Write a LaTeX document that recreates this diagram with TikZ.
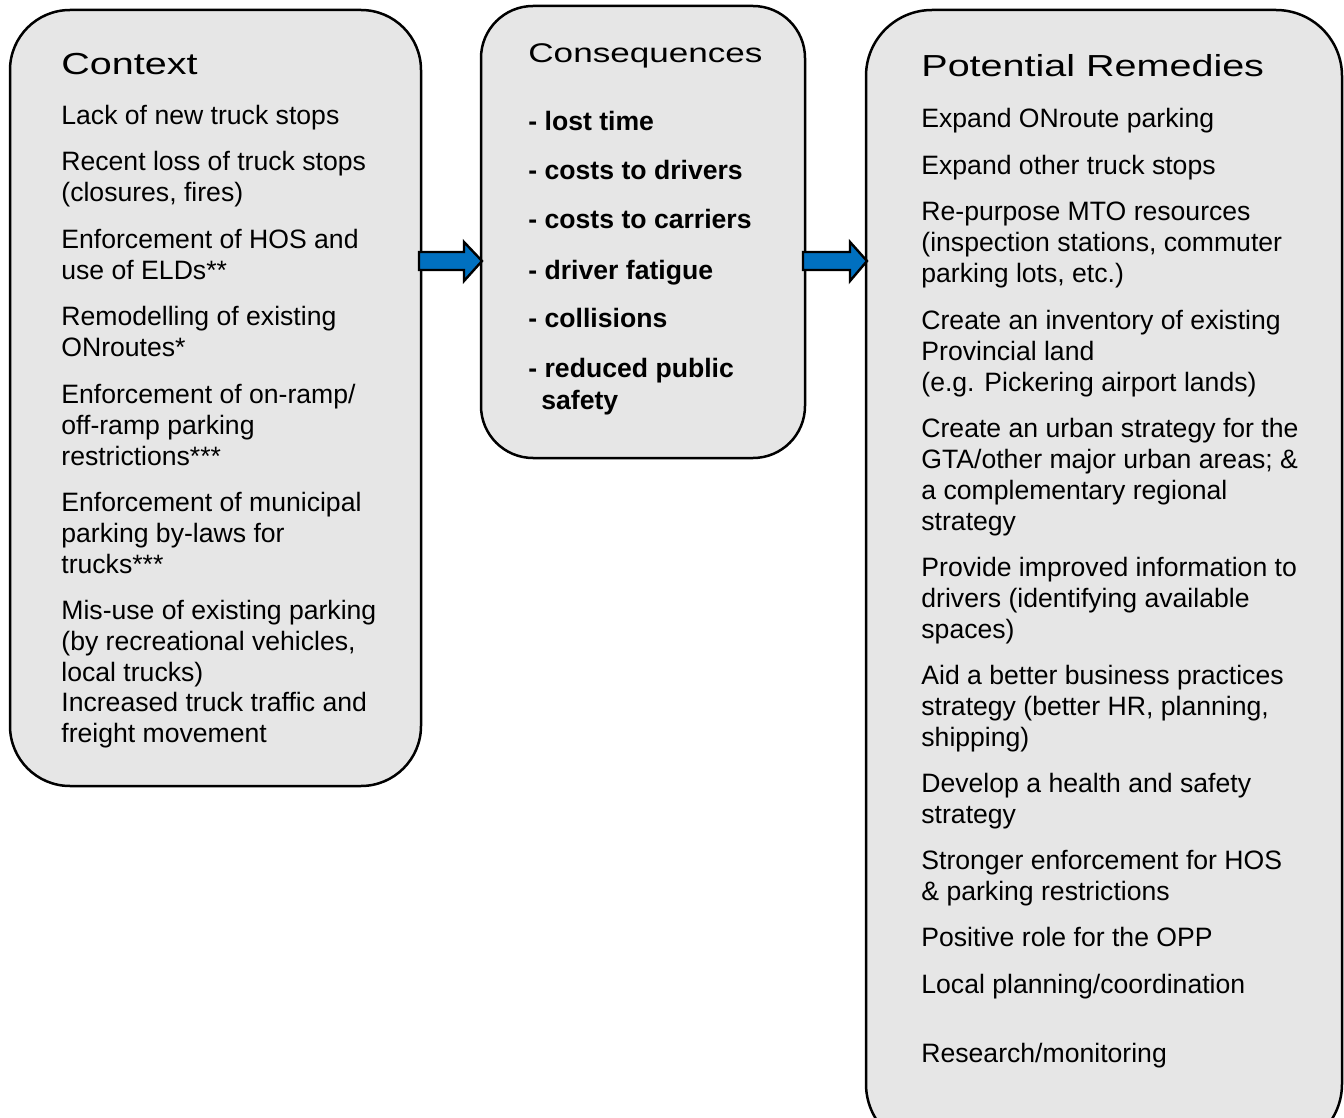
\documentclass[tikz,border=0pt]{standalone}
\usepackage{fontspec}
\setmainfont{Liberation Sans}
\newfontfamily\headfont[FakeStretch=1.3]{Liberation Sans}
\usetikzlibrary{calc}
\definecolor{boxgray}{HTML}{E6E6E6}
\definecolor{arrowblue}{HTML}{0070C0}
\tikzset{
  panel/.style={draw=black, line width=1.25pt, fill=boxgray},
  txt/.style={anchor=base west, inner sep=0pt, font=\fontsize{13.3}{15.5}\selectfont},
  btxt/.style={txt, font=\fontsize{13.3}{15.5}\selectfont\bfseries},
  head/.style={anchor=base west, inner sep=0pt, font=\headfont\fontsize{15.2}{18}\selectfont},
  headsm/.style={head, font=\headfont\fontsize{13.5}{16}\selectfont},
  flowarrow/.style={draw=black, line width=1.2pt, fill=arrowblue, line join=miter}
}
\begin{document}
\begin{tikzpicture}[x=0.5pt, y=-0.5pt]
\useasboundingbox (0,0) rectangle (1344,1118);
\clip (0,0) rectangle (1344,1118);
% panels
\path[panel, rounded corners=30pt] (10,10) rectangle (421,786);
\node[coordinate] (ctxE) at (421,261) {};
\path[panel, rounded corners=26pt] (481,6) rectangle (805,458);
\node[coordinate] (conW) at (481,261) {};
\node[coordinate] (conE) at (805,261) {};
\path[panel, rounded corners=33pt] (866,10) rectangle (1342,1150);
\node[coordinate] (remW) at (866,261) {};
% arrows
\draw[flowarrow] ($(ctxE)+(-2,-9)$) -- ($(conW)+(-17,-9)$) -- ($(conW)+(-17,-19)$) -- ($(conW)+(1,0)$)
  -- ($(conW)+(-17,20)$) -- ($(conW)+(-17,9)$) -- ($(ctxE)+(-2,9)$) -- cycle;
\draw[flowarrow] ($(conE)+(-2,-9)$) -- ($(remW)+(-16,-9)$) -- ($(remW)+(-16,-19)$) -- ($(remW)+(1,0)$)
  -- ($(remW)+(-16,20)$) -- ($(remW)+(-16,9)$) -- ($(conE)+(-2,9)$) -- cycle;
% Context
\node[head] (ch) at (61,75) {Context};
\node[txt] (c1) at (61,125) {Lack of new truck stops};
\node[txt] (c2) at (61,171) {Recent loss of truck stops};
\node[txt] (c3) at (61,202) {(closures, fires)};
\node[txt] (c4) at (61,249) {Enforcement of HOS and};
\node[txt] (c5) at (61,279) {use of ELDs**};
\node[txt] (c6) at (61,326) {Remodelling of existing};
\node[txt] (c7) at (61,357) {ONroutes*};
\node[txt] (c8) at (61,403) {Enforcement of on-ramp/};
\node[txt] (c9) at (61,434) {off-ramp parking};
\node[txt] (c10) at (61,465) {restrictions***};
\node[txt] (c11) at (61,511) {Enforcement of municipal};
\node[txt] (c12) at (61,542) {parking by-laws for};
\node[txt] (c13) at (61,573) {trucks***};
\node[txt] (c14) at (61,619) {Mis-use of existing parking};
\node[txt] (c15) at (61,650) {(by recreational vehicles,};
\node[txt] (c16) at (61,681) {local trucks)};
\node[txt] (c17) at (61,711) {Increased truck traffic and};
\node[txt] (c18) at (61,742) {freight movement};
% Consequences
\node[headsm] (qh) at (528,63) {Consequences};
\node[btxt] (q1) at (528,131) {- lost time};
\node[btxt] (q2) at (528,180) {- costs to drivers};
\node[btxt] (q3) at (528,229) {- costs to carriers};
\node[btxt] (q4) at (528,279) {- driver fatigue};
\node[btxt] (q5) at (528,328) {- collisions};
\node[btxt] (q6) at (528,378) {- reduced public};
\node[btxt] (q7) at (541,409) {safety};
% Remedies
\node[head] (rh) at (921,77) {Potential Remedies};
\node[txt] (r1) at (921,128) {Expand ONroute parking};
\node[txt] (r2) at (921,175) {Expand other truck stops};
\node[txt] (r3) at (921,221) {Re-purpose MTO resources};
\node[txt] (r4) at (921,252) {(inspection stations, commuter};
\node[txt] (r5) at (921,283) {parking lots, etc.)};
\node[txt] (r6) at (921,329) {Create an inventory of existing};
\node[txt] (r7) at (921,360) {Provincial land};
\node[txt] (r8) at (921,391) {(e.g. Pickering airport lands)};
\node[txt] (r9) at (921,437) {Create an urban strategy for the};
\node[txt] (r10) at (921,468) {GTA/other major urban areas; \&};
\node[txt] (r11) at (921,499) {a complementary regional};
\node[txt] (r12) at (921,530) {strategy};
\node[txt] (r13) at (921,576) {Provide improved information to};
\node[txt] (r14) at (921,607) {drivers (identifying available};
\node[txt] (r15) at (921,638) {spaces)};
\node[txt] (r16) at (921,684) {Aid a better business practices};
\node[txt] (r17) at (921,715) {strategy (better HR, planning,};
\node[txt] (r18) at (921,746) {shipping)};
\node[txt] (r19) at (921,792) {Develop a health and safety};
\node[txt] (r20) at (921,823) {strategy};
\node[txt] (r21) at (921,869) {Stronger enforcement for HOS};
\node[txt] (r22) at (921,900) {\& parking restrictions};
\node[txt] (r23) at (921,946) {Positive role for the OPP};
\node[txt] (r24) at (921,993) {Local planning/coordination};
\node[txt] (r25) at (921,1062) {Research/monitoring};
\end{tikzpicture}
\end{document}
